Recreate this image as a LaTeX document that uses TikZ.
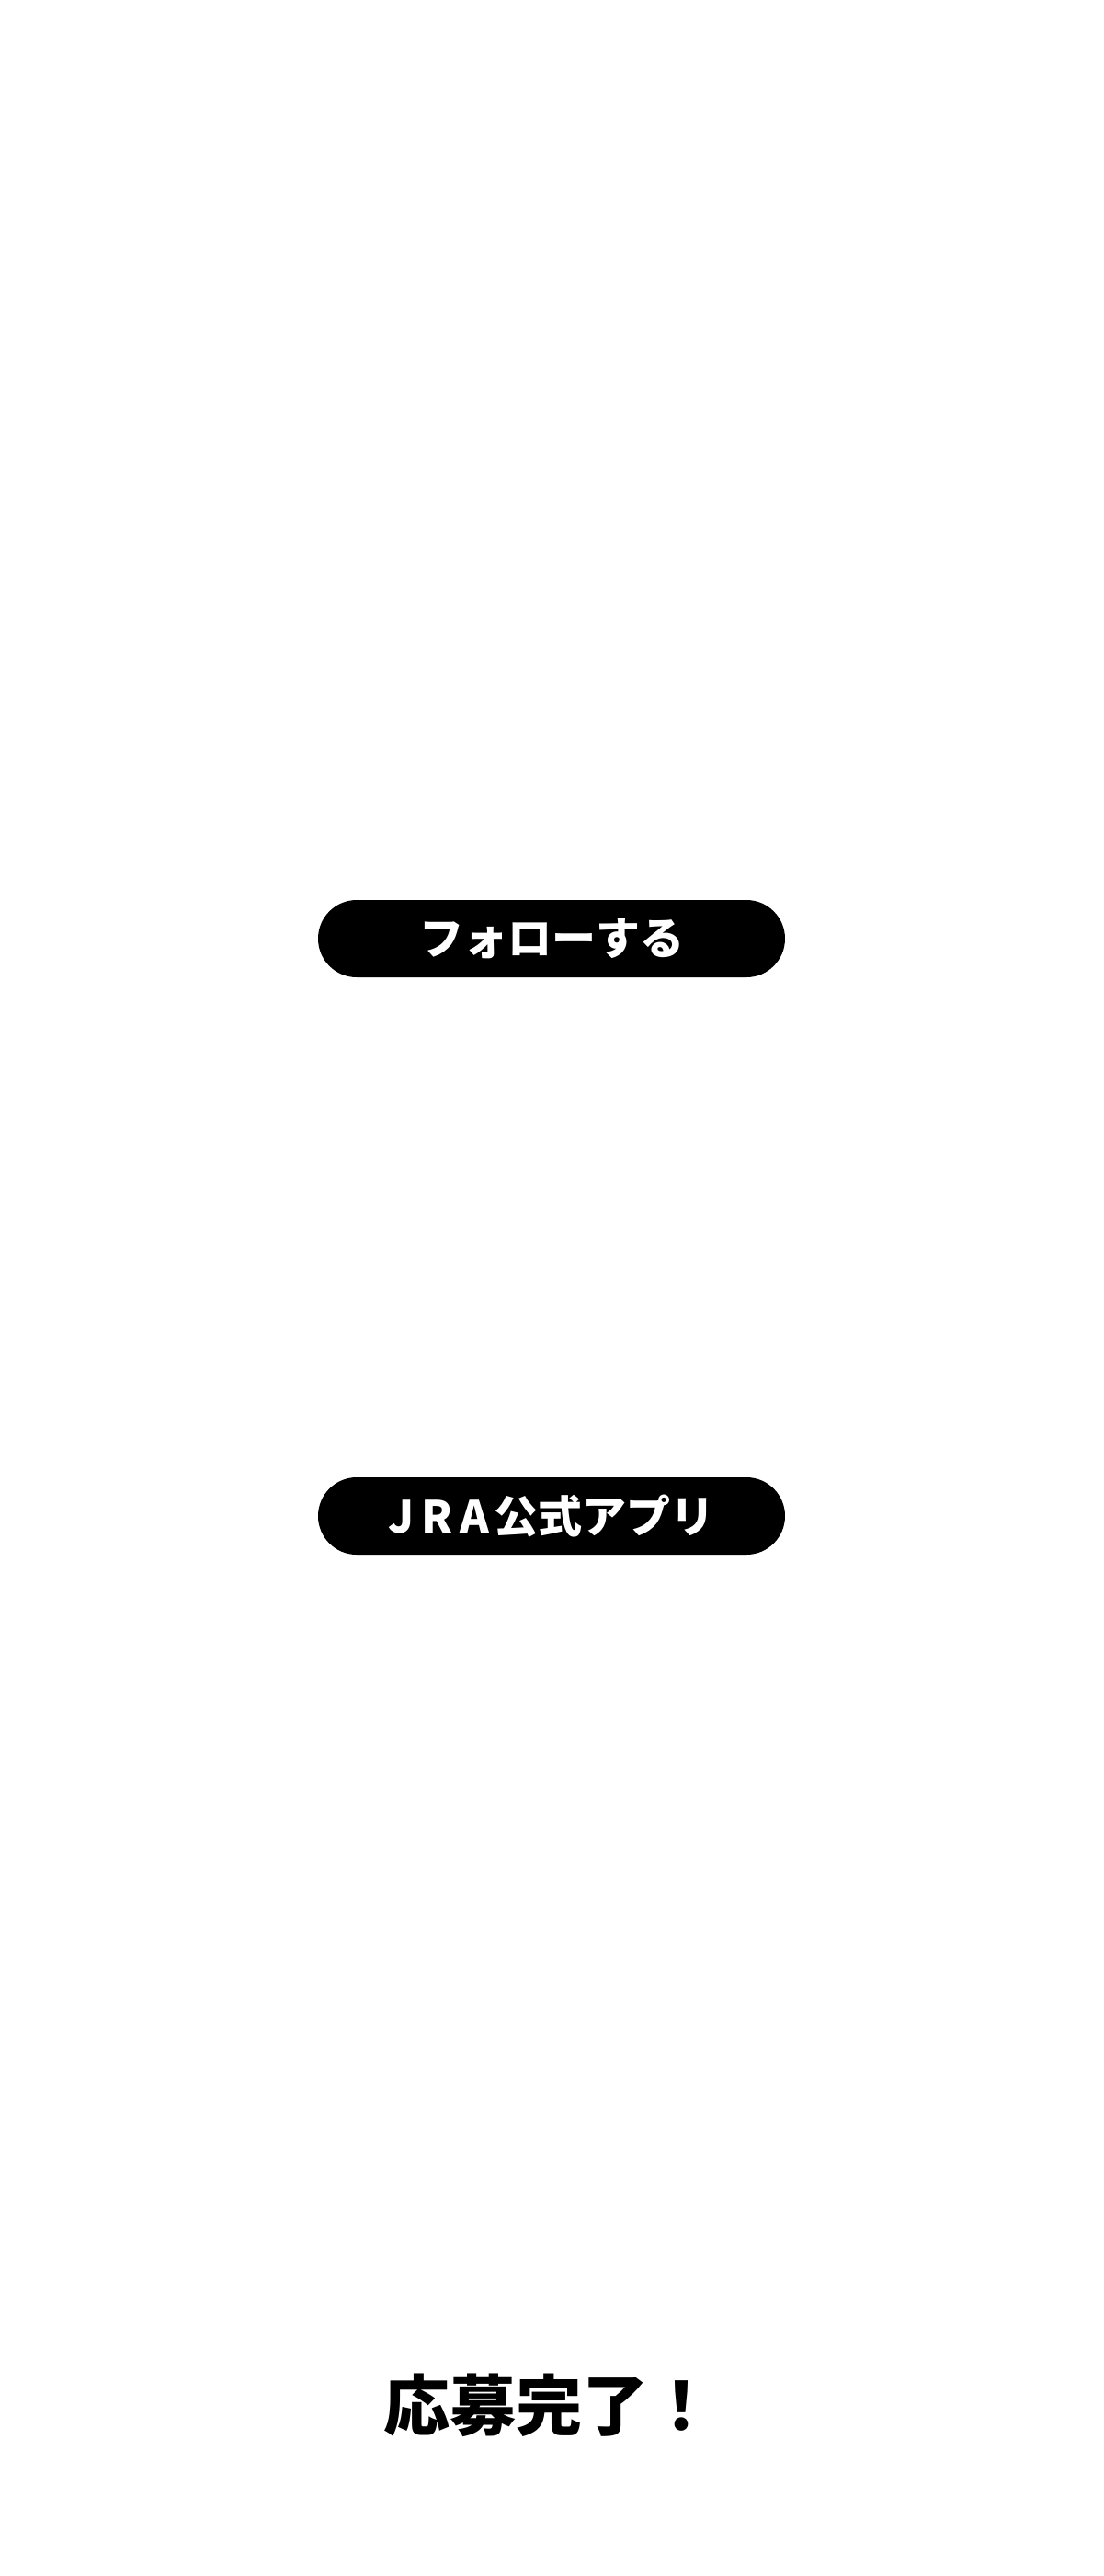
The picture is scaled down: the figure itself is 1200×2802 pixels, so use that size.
\documentclass[tikz,border=0pt]{standalone}
\usepackage{fontspec}
\newfontfamily\cjk{Noto Sans CJK JP}
\begin{document}
\begin{tikzpicture}[x=1pt,y=1pt]
\tikzset{pill/.style={fill=black,text=white,rounded corners=42pt,minimum width=508pt,minimum height=84pt,inner sep=0pt,font=\cjk\bfseries\fontsize{48}{52}\selectfont}}
\useasboundingbox (0,0) rectangle (1200,-2802);
\node[pill] (follow) at (600,-1021) {フォローする};
\node[pill] (app) at (600,-1649) {J\hspace{8pt}R\hspace{8pt}A\hspace{6pt}公式アプリ};
\node[font=\cjk\bfseries\fontsize{72}{78}\selectfont,inner sep=0pt] (done) at (597,-2616) {応募完了！};
\end{tikzpicture}
\end{document}
